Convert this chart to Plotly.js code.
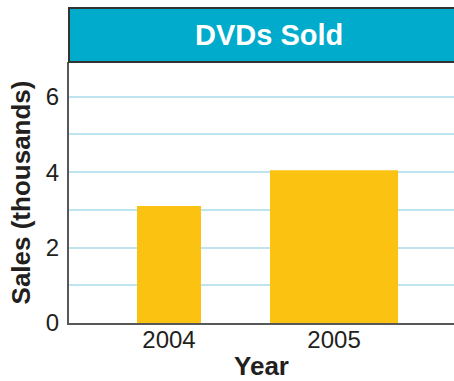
<!DOCTYPE html>
<html>
<head>
<meta charset="utf-8">
<script src="https://cdn.plot.ly/plotly-3.0.1.min.js"></script>
<style>
html,body{margin:0;padding:0;background:#fff;}
#chart{width:454px;height:381px;}
</style>
</head>
<body>
<div id="chart"></div>
<script>
// Data
const years = ['2004', '2005'];
const sales = [3.1, 4.05];
const yTickVals = [0, 1, 2, 3, 4, 5, 6];
const yTickText = ['0', '', '2', '', '4', '', '6'];
const chartTitle = 'DVDs Sold';
const xTitle = 'Year';
const yTitle = 'Sales (thousands)';

// Styles
const barWidths = [0.388, 0.776];
const barColor = '#FCC211';
const bannerColor = '#00ABCC';
const gridColor = '#BEE5EF';
const axisColor = '#58585A';
const textColor = '#231F20';
const font = 'Liberation Sans, Arial, sans-serif';

const trace = {
  type: 'bar',
  x: years,
  y: sales,
  width: barWidths,
  marker: {color: barColor, line: {width: 0}},
  hoverinfo: 'none'
};

const layout = {
  width: 454,
  height: 381,
  margin: {l: 69, r: 0, t: 62, b: 58, pad: 0},
  paper_bgcolor: '#fff',
  plot_bgcolor: '#fff',
  showlegend: false,
  font: {family: font, color: textColor},
  xaxis: {
    type: 'category',
    range: [-0.606, 1.727],
    showline: true,
    linecolor: axisColor,
    linewidth: 2,
    showgrid: false,
    ticks: '',
    tickfont: {size: 24, color: textColor},
    ticklabelstandoff: -6,
    title: {text: xTitle, font: {size: 26, color: textColor, weight: 'bold'}, standoff: 8},
    fixedrange: true
  },
  yaxis: {
    range: [0, 6.92],
    tickmode: 'array',
    tickvals: yTickVals,
    ticktext: yTickText,
    showline: true,
    linecolor: axisColor,
    linewidth: 2,
    showgrid: true,
    gridcolor: gridColor,
    gridwidth: 2,
    zeroline: false,
    ticks: '',
    tickfont: {size: 24, color: textColor},
    ticklabelstandoff: 3,
    title: {text: yTitle, font: {size: 26, color: textColor, weight: 'bold'}, standoff: 8},
    fixedrange: true
  },
  shapes: [
    {
      type: 'rect', xref: 'paper', yref: 'paper',
      x0: 0, x1: 1.01, y0: 1, y1: 1 + 54 / 261,
      fillcolor: bannerColor,
      line: {color: '#333', width: 2},
      layer: 'above'
    }
  ],
  annotations: [
    {
      text: '<b>' + chartTitle + '</b>',
      xref: 'paper', yref: 'paper',
      x: 0.519, y: 1 + 27 / 261,
      xanchor: 'center', yanchor: 'middle',
      showarrow: false,
      font: {size: 29, color: '#fff', family: font}
    }
  ]
};

Plotly.newPlot('chart', [trace], layout, {staticPlot: true, displayModeBar: false});
</script>
</body>
</html>
